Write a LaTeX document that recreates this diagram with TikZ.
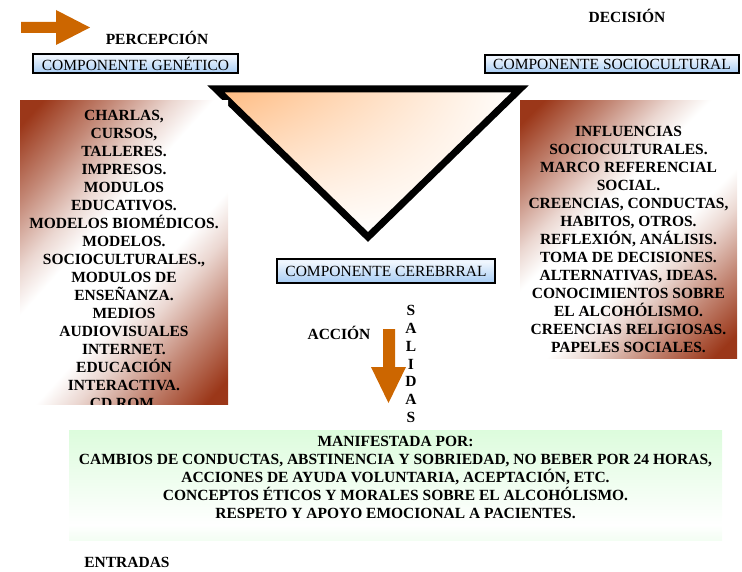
\documentclass[tikz,border=0pt]{standalone}
\usepackage{fontspec}
\setmainfont{Liberation Serif}
\usepackage{tikz}
\usetikzlibrary{positioning, shadings}

\definecolor{flecha}{RGB}{204,102,0}
\definecolor{cafe}{RGB}{155,55,25}
\definecolor{verde}{RGB}{200,250,200}
\definecolor{azul}{RGB}{125,180,238}
\definecolor{azulclaro}{RGB}{185,215,250}
\definecolor{durazno}{RGB}{255,185,125}
\pgfdeclarehorizontalshading{panel}{100bp}{color(0bp)=(cafe); color(18bp)=(cafe); color(28bp)=(cafe!60); color(37bp)=(cafe!20); color(43bp)=(white); color(57bp)=(white); color(63bp)=(cafe!20); color(72bp)=(cafe!60); color(82bp)=(cafe); color(100bp)=(cafe)}
\pgfdeclareverticalshading{manif}{100bp}{color(0bp)=(verde); color(32bp)=(white); color(100bp)=(verde)}
\pgfdeclareverticalshading{comp}{100bp}{color(0bp)=(azul); color(70bp)=(white!80!azulclaro); color(100bp)=(azulclaro)}

\tikzset{
  letra/.style={font=\bfseries\fontsize{15.5}{18}\selectfont},
  comp/.style={draw, line width=2pt, shade, shading=comp, inner sep=0pt,
    font=\fontsize{15.5}{18}\selectfont},
  lista/.style={letra, align=center, inner sep=0pt, anchor=north}
}

\begin{document}
\begin{tikzpicture}[x=1pt, y=-1pt]
\useasboundingbox (0,0) rectangle (742,572);

\fill[flecha] (21,22) -- (56,22) -- (56,10) -- (90,27.5) -- (56,45) -- (56,33) -- (21,33) -- cycle;
\fill[flecha] (383,329) -- (395,329) -- (395,367) -- (406,367) -- (388.5,403) -- (371,367) -- (383,367) -- cycle;

\node[letra] (percepcion) at (157,38) {PERCEPCIÓN};
\node[letra] (decision) at (627,16) {DECISIÓN};
\node[letra] (accion) at (339,333) {ACCIÓN};
\node[letra] (entradas) at (127,562) {ENTRADAS};
\node[letra, align=center, inner sep=0pt, font=\bfseries\fontsize{15.5}{17.8}\selectfont] (salidas) at (411,364) {S\\A\\L\\I\\D\\A\\S};

\node[comp, minimum width=205, minimum height=19] (genetico) at (135.5,63.5) {COMPONENTE GENÉTICO};
\node[comp, minimum width=254, minimum height=18] (sociocultural) at (612,64) {COMPONENTE SOCIOCULTURAL};
\node[comp, minimum width=218, minimum height=24] (cerebral) at (386,271) {COMPONENTE CEREBRRAL};

\shade[upper left=durazno, upper right=white, lower left=white, lower right=white]
  (216,89) -- (520,89) -- (368,237) -- cycle;
\draw[line width=7pt, line join=miter] (216,89) -- (520,89) -- (368,237) -- cycle;

\begin{scope}
\clip (20,101) rectangle (228,404.5);
\shade[shading=panel, shading angle=-42] (20,101) rectangle (228,404.5);
\node[lista] (izq) at (124,110) {CHARLAS,\\CURSOS,\\TALLERES.\\IMPRESOS.\\MODULOS\\EDUCATIVOS.\\MODELOS BIOMÉDICOS.\\MODELOS.\\SOCIOCULTURALES.,\\MODULOS DE\\ENSEÑANZA.\\MEDIOS\\AUDIOVISUALES\\INTERNET.\\EDUCACIÓN\\INTERACTIVA.\\CD ROM.};
\end{scope}

\shade[shading=panel, shading angle=-45] (520,101) rectangle (737,358);
\node[lista] (der) at (628.5,126) {INFLUENCIAS\\SOCIOCULTURALES.\\MARCO REFERENCIAL\\SOCIAL.\\CREENCIAS, CONDUCTAS,\\HABITOS, OTROS.\\REFLEXIÓN, ANÁLISIS.\\TOMA DE DECISIONES.\\ALTERNATIVAS, IDEAS.\\CONOCIMIENTOS SOBRE\\EL ALCOHÓLISMO.\\CREENCIAS RELIGIOSAS.\\PAPELES SOCIALES.};

\shade[shading=manif] (69,430) rectangle (722,540);
\node[lista] (manifestada) at (395.5,436) {MANIFESTADA POR:\\CAMBIOS DE CONDUCTAS, ABSTINENCIA Y SOBRIEDAD, NO BEBER POR 24 HORAS,\\ACCIONES DE AYUDA VOLUNTARIA, ACEPTACIÓN, ETC.\\CONCEPTOS ÉTICOS Y MORALES SOBRE EL ALCOHÓLISMO.\\RESPETO Y APOYO EMOCIONAL A PACIENTES.};
\end{tikzpicture}
\end{document}
